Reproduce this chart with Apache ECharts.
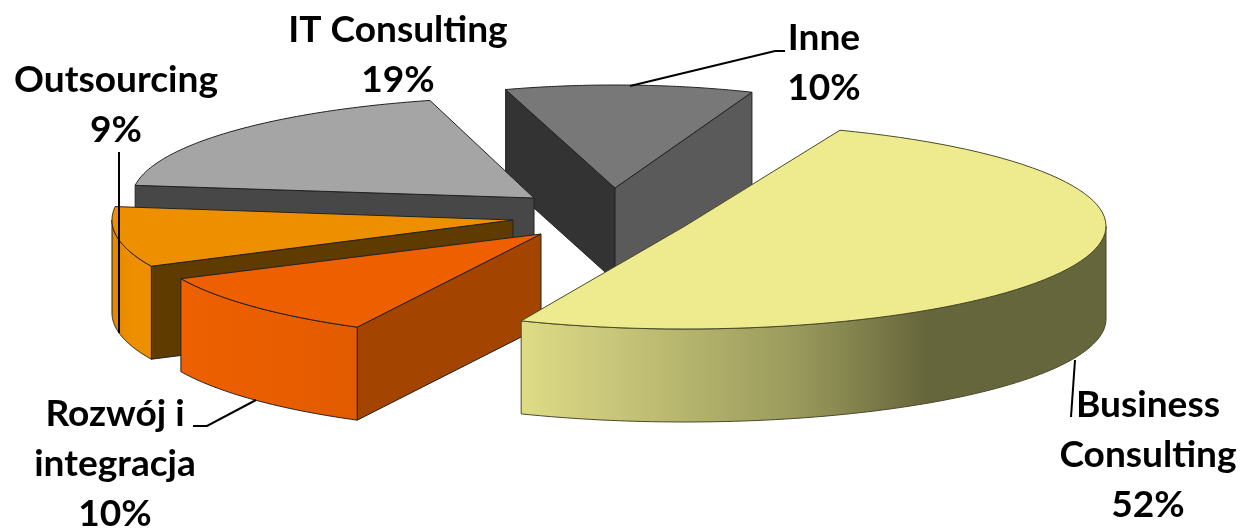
<!DOCTYPE html>
<html>
<head>
<meta charset="utf-8">
<style>html,body{margin:0;padding:0;background:#fff}#c{width:1241px;height:530px}</style>
<script src="https://cdn.jsdelivr.net/npm/echarts@6/dist/echarts.min.js"></script>
</head>
<body>
<div id="c"></div>
<script>
// Data, clockwise from the first slice
var categories = ['Business\nConsulting', 'Rozwój i\nintegracja', 'Outsourcing', 'IT Consulting', 'Inne'];
var values = [52, 10, 9, 19, 10];

// Layout of the exploded, tilted pie
var firstAngle = 21.6, depth = 93;
var centres = [[685, 226], [541, 234], [513, 220], [534, 198], [615, 188]];
var radiiX = [421, 398, 401, 402, 372];
var radiiY = [103, 105, 107, 101, 103];
var edgeTweaks = [[0, -5.9], [-1.3, 0], [-0.4, 0], [0, -0.6], [-2.7, 0]];
var topColors = ['#EDEB8E', '#EE5F00', '#EE8F00', '#A5A5A5', '#787878'];
var startWall = [null, '#A34400', '#5F3B00', '#474747', '#333333'];
var endWall = [null, null, null, null, '#5A5A5A'];
var rimStops = [
  [[0, '#DEDC84'], [0.15, '#C9C77A'], [0.47, '#9A9A5C'], [0.69, '#66663C'], [1, '#66663C']],
  [[0, '#EE6000'], [1, '#E35B00']],
  [[0, '#E08800'], [0.5, '#EE8F00'], [1, '#EE8F00']],
  null, null
];
var strokeColors = ['#4A4A2A', '#222', '#222', '#222', '#222'];

// Labels
var labelCentres = [[1148, 455], [115, 464], [116, 105], [398, 55], [824, 63]];
var leaders = [
  [[1071, 417], [1075, 360]],
  [[193, 426], [207, 426], [256, 400]],
  [[119, 152], [119, 333]],
  null,
  [[785, 51], [775, 51], [630, 86]]
];

var total = values.reduce(function (a, b) { return a + b; }, 0);
var spans = [], cursor = firstAngle;
values.forEach(function (v, i) {
  var sweep = v / total * 360;
  spans.push([cursor + edgeTweaks[i][0], cursor + sweep + edgeTweaks[i][1]]);
  cursor += sweep;
});

function rimPoint(i, deg, drop) {
  var a = deg * Math.PI / 180;
  return [centres[i][0] + radiiX[i] * Math.sin(a),
          centres[i][1] - radiiY[i] * Math.cos(a) + (drop || 0)];
}
function arc(i, from, to, drop) {
  var pts = [], n = 80;
  for (var k = 0; k <= n; k++) pts.push(rimPoint(i, from + (to - from) * k / n, drop));
  return pts;
}
function poly(points, fill, stroke) {
  return { type: 'polygon', shape: { points: points },
    style: { fill: fill, stroke: stroke, lineWidth: 1, lineJoin: 'round' } };
}
function edgeWall(i, deg, color) {
  var c = centres[i], p = rimPoint(i, deg);
  return poly([c, p, [p[0], p[1] + depth], [c[0], c[1] + depth]], color, strokeColors[i]);
}

function renderSlice(params, api) {
  var i = api.value(0), s = spans[i], kids = [];
  if (startWall[i]) kids.push(edgeWall(i, s[0], startWall[i]));
  if (endWall[i]) kids.push(edgeWall(i, s[1], endWall[i]));
  var from = Math.max(s[0], 90), to = Math.min(s[1], 270);
  if (rimStops[i] && to > from) {
    var top = arc(i, from, to, 0), bottom = arc(i, to, from, depth);
    var stops = rimStops[i].map(function (d) { return { offset: d[0], color: d[1] }; });
    var grad = new echarts.graphic.LinearGradient(0, 0, 1, 0, stops);
    kids.push(poly(top.concat(bottom), grad, strokeColors[i]));
  }
  var c = centres[i];
  kids.push(poly([c].concat(arc(i, s[0], s[1], 0)), topColors[i], strokeColors[i]));
  return { type: 'group', children: kids };
}

function renderLabel(params, api) {
  var i = api.value(0), kids = [];
  if (leaders[i]) {
    kids.push({ type: 'polyline', shape: { points: leaders[i] },
      style: { fill: null, stroke: '#000', lineWidth: 2 } });
  }
  kids.push({ type: 'text', x: labelCentres[i][0], y: labelCentres[i][1],
    scaleX: 1.03,
    style: { text: categories[i] + '\n' + values[i] + '%',
      fontFamily: 'Lato', fontWeight: 700, fontSize: 36, lineHeight: 50,
      fill: '#000', align: 'center', verticalAlign: 'middle' } });
  return { type: 'group', children: kids };
}

var drawOrder = [4, 3, 2, 1, 0].map(function (i) { return [i]; });
var chart = echarts.init(document.getElementById('c'), null, { renderer: 'canvas' });
chart.setOption({
  backgroundColor: '#fff',
  animation: false,
  series: [
    { type: 'custom', coordinateSystem: 'none', renderItem: renderSlice, data: drawOrder, z: 2, silent: true },
    { type: 'custom', coordinateSystem: 'none', renderItem: renderLabel, data: drawOrder, z: 3, silent: true }
  ]
});
</script>
</body>
</html>
